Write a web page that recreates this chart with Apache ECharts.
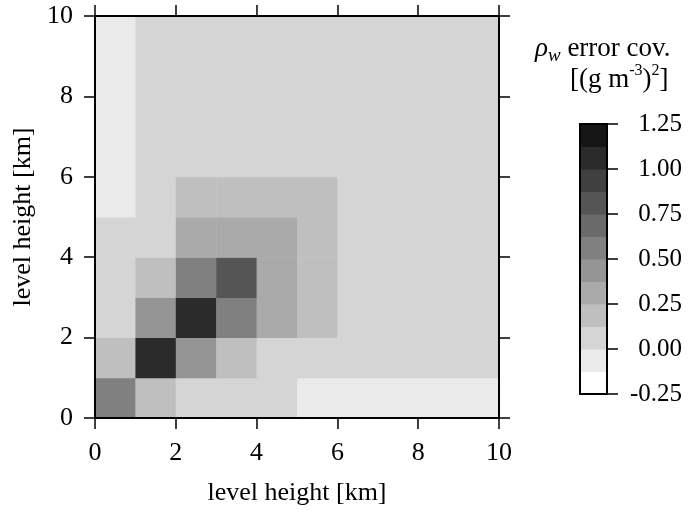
<!DOCTYPE html>
<html>
<head>
<meta charset="utf-8">
<script src="https://cdn.jsdelivr.net/npm/echarts@6/dist/echarts.min.js"></script>
<style>
  html, body { margin: 0; padding: 0; background: #fff; }
  #chart { width: 688px; height: 511px; }
</style>
</head>
<body>
<div id="chart"></div>
<script>
// Level heights (km) of the cell edges along each axis
const levelEdges = [0, 1, 2, 3, 4, 5, 6, 7, 8, 9, 10];
const axisTicks = [0, 2, 4, 6, 8, 10];

// Error covariance of rho_w, [(g m^-3)^2]; rows run from the lowest level upward
const covRow0 = [0.55, 0.20, 0.05, 0.05, 0.05, -0.04, -0.04, -0.04, -0.04, -0.04];
const covRow1 = [0.20, 1.05, 0.45, 0.20, 0.05, 0.05, 0.05, 0.05, 0.05, 0.05];
const covRow2 = [0.05, 0.45, 1.05, 0.55, 0.30, 0.20, 0.05, 0.05, 0.05, 0.05];
const covRow3 = [0.05, 0.20, 0.55, 0.80, 0.30, 0.20, 0.05, 0.05, 0.05, 0.05];
const covRow4 = [0.05, 0.05, 0.30, 0.30, 0.30, 0.20, 0.05, 0.05, 0.05, 0.05];
const covRow5 = [-0.04, 0.05, 0.20, 0.20, 0.20, 0.20, 0.05, 0.05, 0.05, 0.05];
const covRow6 = [-0.04, 0.05, 0.05, 0.05, 0.05, 0.05, 0.05, 0.05, 0.05, 0.05];
const covRow7 = [-0.04, 0.05, 0.05, 0.05, 0.05, 0.05, 0.05, 0.05, 0.05, 0.05];
const covRow8 = [-0.04, 0.05, 0.05, 0.05, 0.05, 0.05, 0.05, 0.05, 0.05, 0.05];
const covRow9 = [-0.04, 0.05, 0.05, 0.05, 0.05, 0.05, 0.05, 0.05, 0.05, 0.05];
const covRows = [covRow0, covRow1, covRow2, covRow3, covRow4, covRow5, covRow6, covRow7, covRow8, covRow9];

// Discrete colour scale
const colorEdges = [-0.25, -0.125, 0, 0.125, 0.25, 0.375, 0.5, 0.625, 0.75, 0.875, 1.0, 1.125, 1.25];
const colorSteps = ['#ffffff', '#eaeaea', '#d5d5d5', '#bfbfbf', '#aaaaaa', '#959595',
                    '#808080', '#6a6a6a', '#555555', '#404040', '#2b2b2b', '#161616'];
const colorbarTicks = [-0.25, 0, 0.25, 0.5, 0.75, 1.0, 1.25];

function colorFor(v) {
  for (let i = 0; i < colorSteps.length; i++) {
    if (v >= colorEdges[i] && v < colorEdges[i + 1]) return colorSteps[i];
  }
  return v < colorEdges[0] ? colorSteps[0] : colorSteps[colorSteps.length - 1];
}

// Heatmap cells: [x0, y0, x1, y1, value]
const cells = [];
covRows.forEach((row, j) => {
  row.forEach((v, i) => {
    cells.push([levelEdges[i], levelEdges[j], levelEdges[i + 1], levelEdges[j + 1], v]);
  });
});

// Colour bar blocks: [lo, hi, colorIndex]
const barBlocks = colorSteps.map((c, i) => [colorEdges[i], colorEdges[i + 1], i]);

const FONT = "'Liberation Serif', 'Times New Roman', serif";
const BLACK = '#000';

function rectItem(x0, y0, x1, y1, api, fill) {
  const p0 = api.coord([x0, y1]);
  const p1 = api.coord([x1, y0]);
  return {
    type: 'rect',
    shape: { x: p0[0], y: p0[1], width: p1[0] - p0[0] + 0.5, height: p1[1] - p0[1] + 0.5 },
    style: { fill: fill }
  };
}

const frameAxis = (extra) => Object.assign({
  type: 'value',
  min: axisTicks[0], max: axisTicks[axisTicks.length - 1], interval: axisTicks[1] - axisTicks[0],
  axisLine: { show: true, onZero: false, lineStyle: { color: BLACK, width: 2 } },
  axisTick: { show: true, inside: false, length: 11, lineStyle: { color: BLACK, width: 1.5 } },
  axisLabel: { show: false },
  splitLine: { show: false },
  z: 10
}, extra);

const tickLabel = { show: true, color: BLACK, fontFamily: FONT, fontSize: 26 };
const nameStyle = { color: BLACK, fontFamily: FONT, fontSize: 26 };

const option = {
  backgroundColor: '#fff',
  animation: false,
  grid: [
    { left: 95, top: 16, width: 404, height: 405 },
    { left: 580, top: 124, width: 27, height: 270 }
  ],
  xAxis: [
    frameAxis({ gridIndex: 0, position: 'bottom',
      axisLabel: Object.assign({ margin: 22 }, tickLabel),
      name: 'level height [km]', nameLocation: 'middle', nameGap: 62,
      nameTextStyle: nameStyle }),
    frameAxis({ gridIndex: 0, position: 'top' }),
    { type: 'value', gridIndex: 1, min: 0, max: 1, position: 'bottom',
      axisLine: { show: true, onZero: false, lineStyle: { color: BLACK, width: 2 } },
      axisTick: { show: false }, axisLabel: { show: false }, splitLine: { show: false }, z: 10 },
    { type: 'value', gridIndex: 1, min: 0, max: 1, position: 'top',
      axisLine: { show: true, onZero: false, lineStyle: { color: BLACK, width: 2 } },
      axisTick: { show: false }, axisLabel: { show: false }, splitLine: { show: false }, z: 10 }
  ],
  yAxis: [
    frameAxis({ gridIndex: 0, position: 'left',
      axisLabel: Object.assign({ margin: 22 }, tickLabel),
      name: 'level height [km]', nameLocation: 'middle', nameGap: 57, nameRotate: 90,
      nameTextStyle: nameStyle }),
    frameAxis({ gridIndex: 0, position: 'right' }),
    { type: 'value', gridIndex: 1, min: colorbarTicks[0], max: colorbarTicks[colorbarTicks.length - 1],
      interval: colorbarTicks[1] - colorbarTicks[0], position: 'left',
      axisLine: { show: true, onZero: false, lineStyle: { color: BLACK, width: 2 } },
      axisTick: { show: false }, axisLabel: { show: false }, splitLine: { show: false }, z: 10 },
    { type: 'value', gridIndex: 1, min: colorbarTicks[0], max: colorbarTicks[colorbarTicks.length - 1],
      interval: colorbarTicks[1] - colorbarTicks[0], position: 'right',
      axisLine: { show: true, onZero: false, lineStyle: { color: BLACK, width: 2 } },
      axisTick: { show: true, inside: false, length: 11, lineStyle: { color: BLACK, width: 1.5 } },
      axisLabel: Object.assign({}, tickLabel, { fontSize: 25, margin: 75, align: 'right',
        formatter: (v) => v.toFixed(2) }),
      splitLine: { show: false }, z: 10 }
  ],
  series: [
    {
      type: 'custom',
      xAxisIndex: 0, yAxisIndex: 0,
      data: cells,
      clip: true,
      renderItem: (params, api) => {
        const d = cells[params.dataIndex];
        return rectItem(d[0], d[1], d[2], d[3], api, colorFor(d[4]));
      }
    },
    {
      type: 'custom',
      xAxisIndex: 2, yAxisIndex: 2,
      data: barBlocks,
      clip: true,
      renderItem: (params, api) => {
        const b = barBlocks[params.dataIndex];
        return rectItem(0, b[0], 1, b[1], api, colorSteps[b[2]]);
      }
    }
  ],
  graphic: [
    {
      type: 'text', left: 535, top: 35, z: 20,
      style: {
        text: '{r|ρ}{w|w}{t| error cov.}',
        rich: {
          r: { fontFamily: FONT, fontStyle: 'italic', fontSize: 27, color: BLACK, lineHeight: 30, verticalAlign: 'top' },
          w: { fontFamily: FONT, fontStyle: 'italic', fontSize: 19, color: BLACK, lineHeight: 19, verticalAlign: 'bottom' },
          t: { fontFamily: FONT, fontSize: 27, color: BLACK, lineHeight: 30, verticalAlign: 'top' }
        }
      }
    },
    {
      type: 'text', left: 570, top: 63, z: 20,
      style: {
        text: '{t|[(g m}{s|-3}{t|)}{s|2}{t|]}',
        rich: {
          t: { fontFamily: FONT, fontSize: 27, color: BLACK, lineHeight: 30, verticalAlign: 'bottom' },
          s: { fontFamily: FONT, fontSize: 16, color: BLACK, lineHeight: 16, verticalAlign: 'top' }
        }
      }
    }
  ]
};

const chart = echarts.init(document.getElementById('chart'), null, { renderer: 'canvas' });
chart.setOption(option);
</script>
</body>
</html>
